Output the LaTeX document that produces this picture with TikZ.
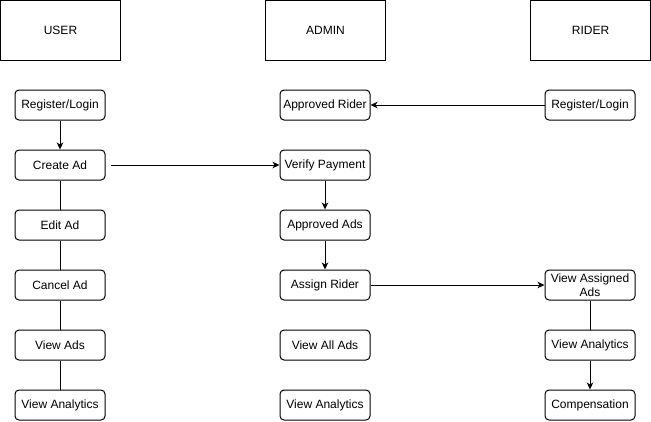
\documentclass[tikz,border=0pt]{standalone}
\usepackage{fontspec}
\setmainfont{Liberation Sans}
\usetikzlibrary{arrows.meta}
\begin{document}
\begin{tikzpicture}[x=1pt,y=-1pt,
  hdr/.style={draw, line width=1pt, minimum width=120pt, minimum height=60pt, inner sep=0pt, font=\fontsize{12}{14}\selectfont},
  box/.style={draw, line width=1pt, rounded corners=4pt, minimum width=90pt, minimum height=30pt, inner sep=0pt, align=center, font=\fontsize{12}{14}\selectfont},
  conn/.style={line width=1pt},
  arr/.style={line width=1pt, -{Stealth[length=7pt,width=6.5pt,inset=2pt]}}]
\useasboundingbox (0,0) rectangle (651,421);
% headers
\node[hdr] (huser) at (60.5,30.5) {USER};
\node[hdr] (hadmin) at (325.5,30.5) {ADMIN};
\node[hdr] (hrider) at (590.5,30.5) {RIDER};
% user column
\node[box] (ureg) at (60,105) {Register/Login};
\node[box] (ucreate) at (60,165) {Create Ad};
\node[box] (uedit) at (60,225) {Edit Ad};
\node[box] (ucancel) at (60,285) {Cancel Ad};
\node[box] (uview) at (60,345) {View Ads};
\node[box] (uanal) at (60,405) {View Analytics};
% admin column
\node[box] (aappr) at (325,105) {Approved Rider};
\node[box] (averify) at (325,165) {Verify Payment};
\node[box] (aads) at (325,225) {Approved Ads};
\node[box] (aassign) at (325,285) {Assign Rider};
\node[box] (aall) at (325,345) {View All Ads};
\node[box] (aanal) at (325,405) {View Analytics};
% rider column
\node[box] (rreg) at (590,105) {Register/Login};
\node[box] (rassigned) at (590,285) {View Assigned\\Ads};
\node[box] (ranal) at (590,345) {View Analytics};
\node[box] (rcomp) at (590,405) {Compensation};
% connectors
\draw[arr] (ureg) -- (ucreate);
\draw[conn] (ucreate) -- (uedit);
\draw[conn] (uedit) -- (ucancel);
\draw[conn] (ucancel) -- (uview);
\draw[conn] (uview) -- (uanal);
\draw[arr, shorten <=5pt] (ucreate) -- (averify);
\draw[arr] (rreg) -- (aappr);
\draw[arr] (averify) -- (aads);
\draw[arr] (aads) -- (aassign);
\draw[arr] (aassign) -- (rassigned);
\draw[conn] (rassigned) -- (ranal);
\draw[arr] (ranal) -- (rcomp);
\end{tikzpicture}
\end{document}
